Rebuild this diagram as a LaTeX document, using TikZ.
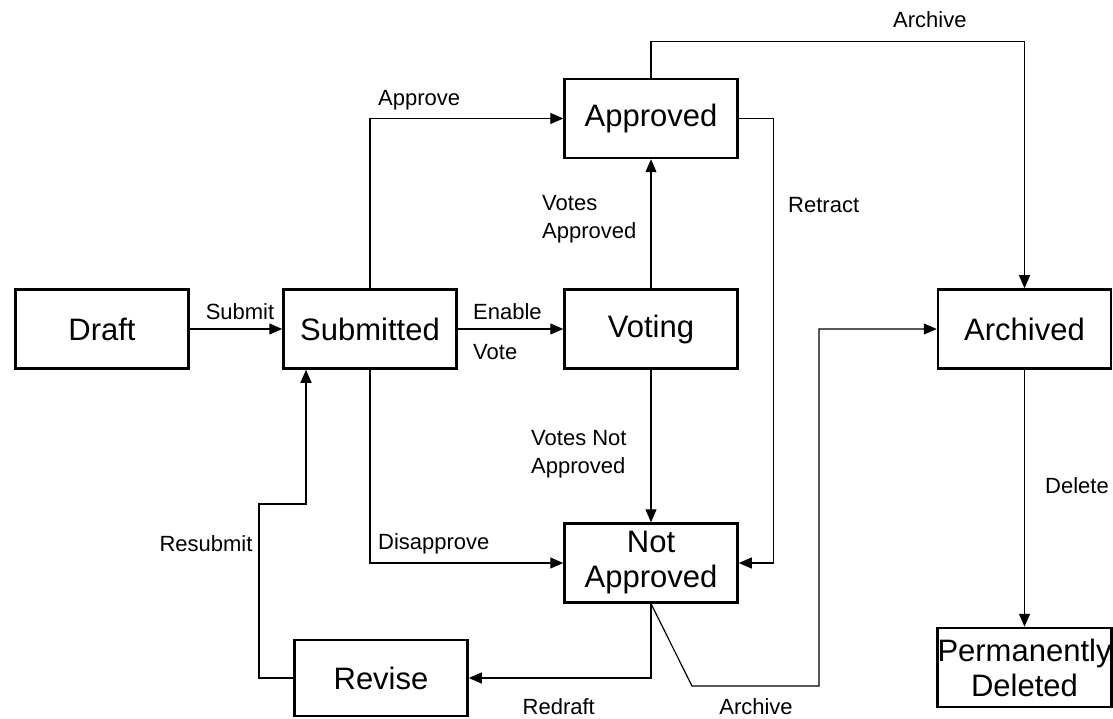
\documentclass[tikz,border=0pt]{standalone}
\usepackage{fontspec}
\setmainfont{Liberation Sans}
\usetikzlibrary{arrows.meta}
\begin{document}
\begin{tikzpicture}[x=1pt,y=-1pt,
  state/.style={draw=black,line width=2.5pt,minimum width=173pt,minimum height=79pt,inner sep=0pt,
    align=center,font=\fontsize{31}{35}\selectfont},
  lbl/.style={inner sep=0pt,align=left,font=\fontsize{22}{28}\selectfont},
  arr/.style={line width=1.2pt,-{Triangle[length=13pt,width=11pt]}},
  ln/.style={line width=1.2pt}]
\useasboundingbox (0,0) rectangle (1113,719);
% states
\node[state] (draft) at (102,329) {Draft};
\node[state] (sub) at (370,329) {Submitted};
\node[state] (vote) at (651,329) {Voting};
\node[state] (app) at (651,118.5) {Approved};
\node[state] (na) at (651,563) {Not\\Approved};
\node[state] (arch) at (1024.5,329) {Archived};
\node[state] (del) at (1024.5,667.5) {Permanently\\Deleted};
\node[state,minimum height=76pt] (rev) at (381,678) {Revise};
% coordinates
\coordinate (rsA) at (259,504);
\coordinate (rsB) at (306,504);
\coordinate (abA) at (692,686);
\coordinate (abB) at (819,686);
% connectors
\draw[arr] (draft.east) -- (sub.west);
\draw[arr] (sub.east) -- (vote.west);
\draw[arr] (sub.north) |- (app.west);
\draw[arr] (sub.south) |- (na.west);
\draw[arr] (vote.north) -- (app.south);
\draw[arr] (vote.south) -- (na.north);
\draw[arr] (app.east) -- ++(35,0) |- (na.east);
\draw[arr] (app.north) -- ++(0,-36) -| (arch.north);
\draw[arr] (na.south) |- (rev.east);
\draw[arr] (na.south) -- (abA) -- (abB) |- (arch.west);
\draw[arr] (rev.west) -| (rsA) -- (rsB) -- (rsB |- sub.south);
\draw[arr] (arch.south) -- (del.north);
% labels
\node[lbl] (lsubmit) at (240,312) {Submit};
\node[lbl,anchor=west] (lenable) at (473,312) {Enable};
\node[lbl,anchor=west] (lvote) at (473,352) {Vote};
\node[lbl,anchor=west] (lapprove) at (378,100) {Approve};
\node[lbl,anchor=west] (ldisapp) at (378,544) {Disapprove};
\node[lbl] (lresub) at (206,544) {Resubmit};
\node[lbl,anchor=west] (lva) at (542,219) {Votes\\Approved};
\node[lbl,anchor=west] (lvna) at (531,454) {Votes Not\\Approved};
\node[lbl,anchor=west] (lretract) at (788,205) {Retract};
\node[lbl,anchor=west] (larchtop) at (893,20) {Archive};
\node[lbl] (larchbot) at (756,707) {Archive};
\node[lbl,anchor=east] (lredraft) at (595,707) {Redraft};
\node[lbl,anchor=west] (ldelete) at (1045,486) {Delete};
\end{tikzpicture}
\end{document}
